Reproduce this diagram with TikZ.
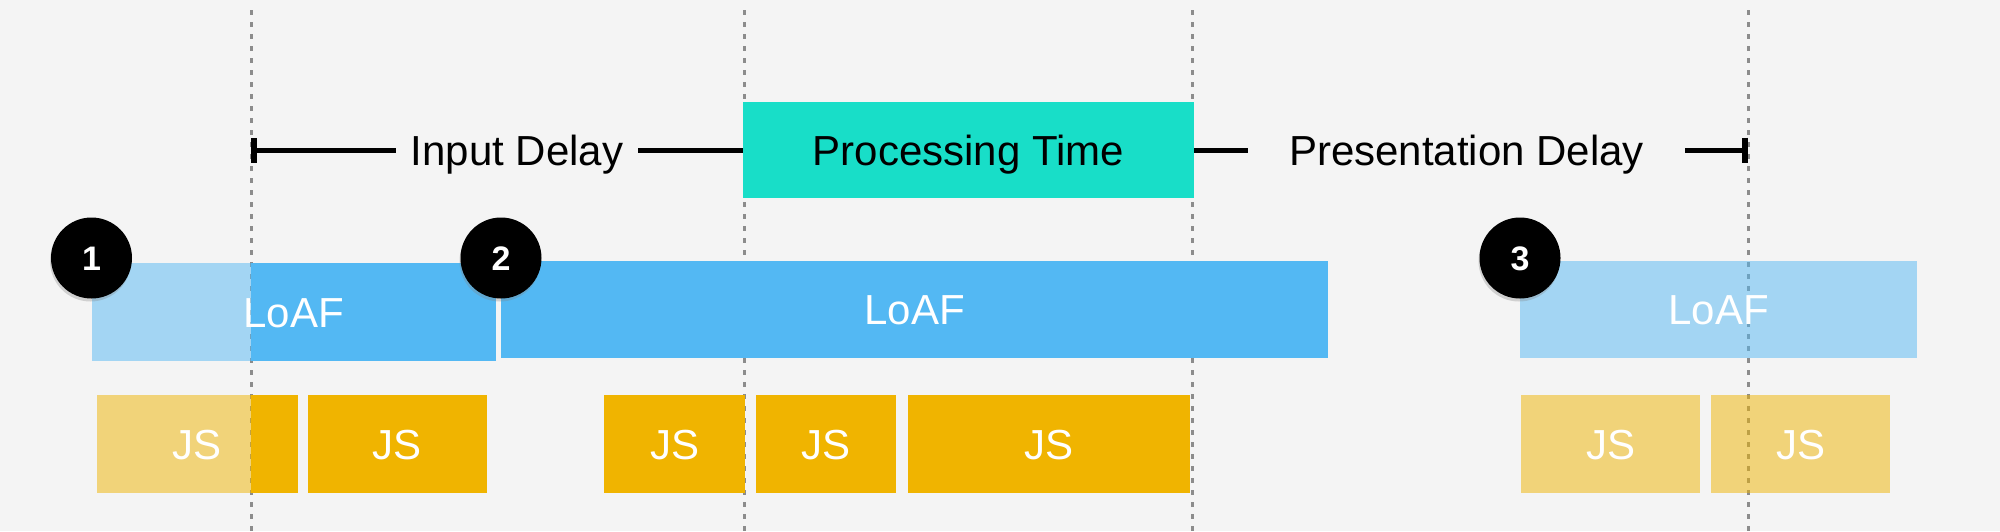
\documentclass[tikz,border=0pt]{standalone}
\usepackage{fontspec}
\setmainfont{Liberation Sans}
\usetikzlibrary{arrows.meta,shadows}

\definecolor{bgGray}{HTML}{F4F4F4}
\definecolor{guideGray}{HTML}{8C8C8C}
\definecolor{loafBlue}{HTML}{53B8F3}
\definecolor{jsGold}{HTML}{F0B400}
\definecolor{procTeal}{HTML}{18DEC8}

\begin{document}
\begin{tikzpicture}
[x=0.5pt,y=-0.5pt,%
  guideLine/.style={draw=guideGray,line width=1.5pt,dash pattern=on 2.5pt off 3.5pt},%
  timeLine/.style={line width=2.5pt},%
  tickEnd/.tip={Bar[width=12.5pt,line width=3pt]},%
  bigText/.style={font=\fontsize{21pt}{25pt}\selectfont,text height=15pt,text depth=0pt},%
  barBox/.style={bigText,inner sep=0pt,text=white,text opacity=1},%
  loafBar/.style={barBox,fill=loafBlue},%
  jsBar/.style={barBox,fill=jsGold,minimum height=49pt},%
  procBox/.style={bigText,fill=procTeal,inner sep=0pt,minimum width=225.5pt,minimum height=48pt},%
  delayLabel/.style={bigText,inner xsep=0pt},%
  stepMark/.style={circle,fill=black,minimum size=40.5pt,inner sep=0pt,text=white,%
    font=\fontsize{17pt}{19pt}\selectfont\bfseries,text height=12pt,text depth=0pt,%
    drop shadow={shadow xshift=-0.5pt,shadow yshift=-1.5pt,opacity=0.3}}]
\useasboundingbox[fill=bgGray] (0,0) rectangle (2000,531);
%% dashed guides
\foreach \x in {251, 744, 1192, 1748}
{
  \draw[guideLine] (\x,10) -- (\x,531);
}
%% dark parts of the first frame and task
\fill[loafBlue] (251,263) rectangle (496,361);
\fill[jsGold] (251,395) rectangle (298,493);
%% LoAF bars
\foreach \nodename/\xa/\xb/\ya/\yb/\op in {loafA/91.5/496/263/361/0.5,
  loafB/501/1328/261/358/1, loafC/1520/1917/261/358/0.5}
{
  \node[loafBar,fill opacity=\op,minimum width={(\xb-\xa)*0.5pt},
    minimum height={(\yb-\ya)*0.5pt}] (\nodename) at ({(\xa+\xb)/2},{(\ya+\yb)/2}) {LoAF};
}
%% JS tasks
\foreach \nodename/\xa/\xb/\op in {jsA/97/298/0.5, jsB/308/487/1, jsC/604/745/1,
  jsD/756/896/1, jsE/907.5/1190/1, jsF/1521/1700/0.5, jsG/1711/1890/0.5}
{
  \node[jsBar,fill opacity=\op,minimum width={(\xb-\xa)*0.5pt}] (\nodename)
    at ({(\xa+\xb)/2},444) {JS};
}
%% numbered marks
\foreach \nodename/\x/\num in {stepA/91.5/1, stepB/501/2, stepC/1520/3}
{
  \node[stepMark] (\nodename) at (\x,258) {\num};
}
%% interaction timeline
\coordinate (tStart) at (251,150);
\coordinate (tEnd) at (1748,150);
\node[delayLabel,minimum width=121pt] (inDelay) at (517,150) {Input Delay};
\node[procBox] (proc) at (968.5,150) {Processing Time};
\node[delayLabel,minimum width=218.5pt] (presDelay) at (1466.5,150) {Presentation Delay};
\draw[timeLine,tickEnd-] (tStart) -- (inDelay.west);
\draw[timeLine] (inDelay.east) -- (proc.west);
\draw[timeLine] (proc.east) -- (presDelay.west);
\draw[timeLine,-tickEnd] (presDelay.east) -- (tEnd);
\end{tikzpicture}
\end{document}
